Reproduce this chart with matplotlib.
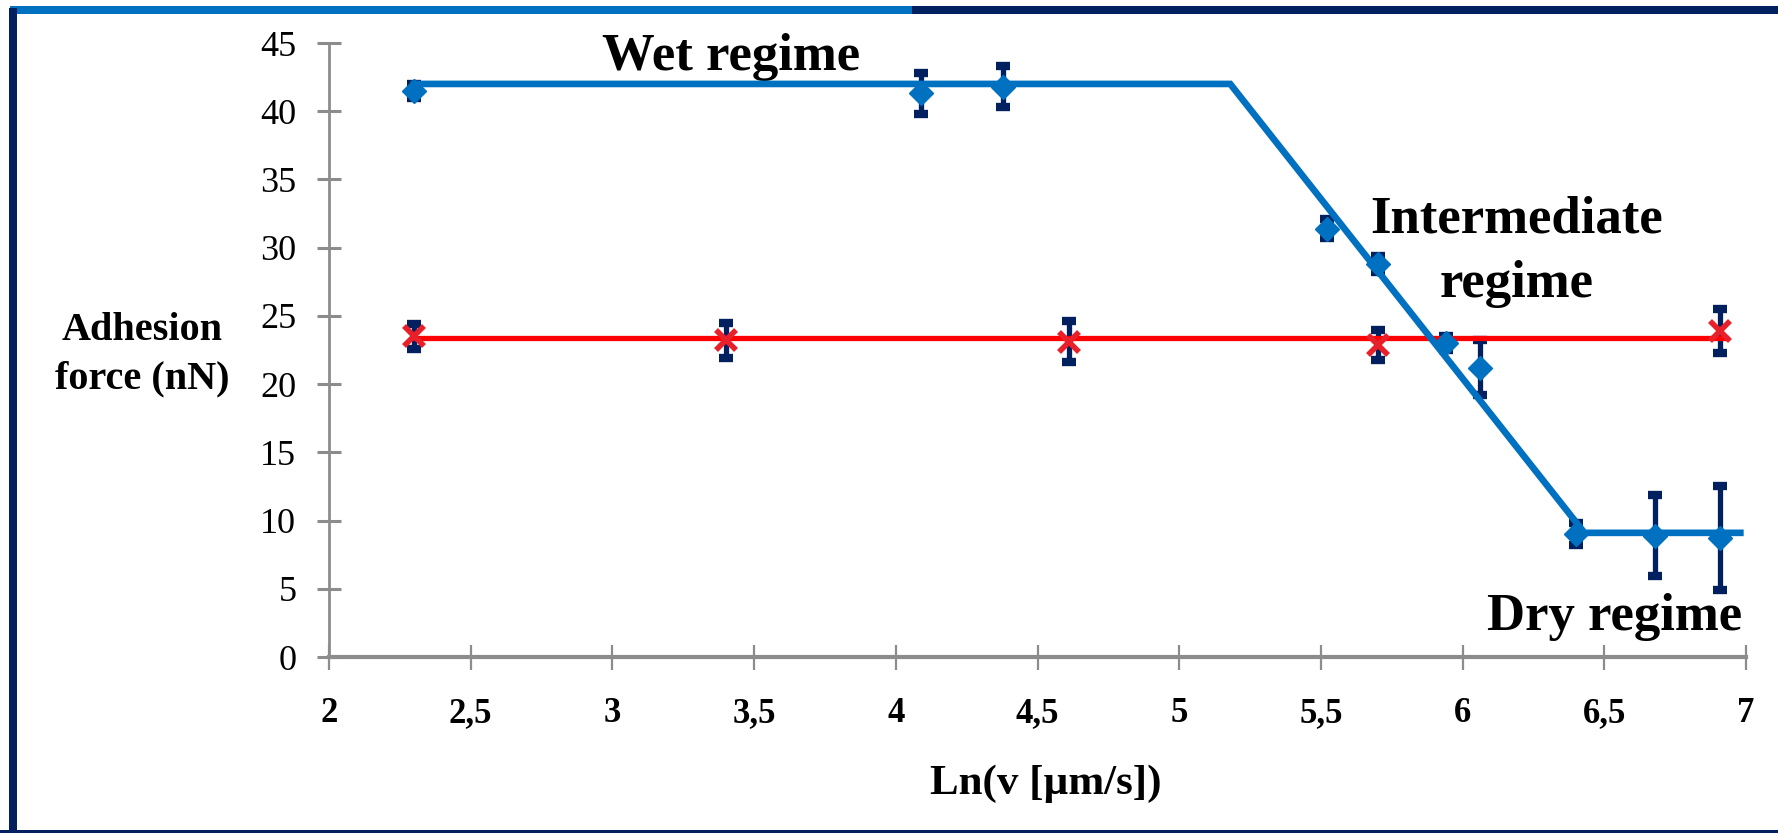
import matplotlib
matplotlib.use('Agg')
import matplotlib.pyplot as plt
from matplotlib.patches import Rectangle
import numpy as np

# data
wet_x = [2.30, 4.09, 4.38, 5.52, 5.70, 5.94, 6.06, 6.40, 6.68, 6.91]
wet_y = [41.5, 41.3, 41.8, 31.4, 28.8, 23.0, 21.2, 9.0, 8.9, 8.7]
wet_err = [0.5, 1.5, 1.5, 0.7, 0.6, 0.5, 2.0, 0.8, 3.0, 3.8]

ctrl_x = [2.30, 3.40, 4.61, 5.70, 6.91]
ctrl_y = [23.5, 23.2, 23.1, 22.9, 23.9]
ctrl_err = [0.9, 1.3, 1.5, 1.1, 1.6]

# fitted regimes
fit_x = [2.30, 5.18, 6.43, 6.98]
fit_y = [42.0, 42.0, 9.1, 9.1]
flat_x = [2.30, 6.93]
flat_y = [23.4, 23.4]

xticks = [2, 2.5, 3, 3.5, 4, 4.5, 5, 5.5, 6, 6.5, 7]
xticklabels = ['2', '2,5', '3', '3,5', '4', '4,5', '5', '5,5', '6', '6,5', '7']
yticks = [0, 5, 10, 15, 20, 25, 30, 35, 40, 45]

blue = '#0070C0'
navy = '#002060'
grey = '#8C8C8C'

plt.rcParams['font.family'] = ['Liberation Serif', 'DejaVu Serif']

W, H = 1778, 833
fig = plt.figure(figsize=(W / 100, H / 100), dpi=100)
ax = fig.add_axes([329 / W, 1 - 657 / H, (1746 - 329) / W, (657 - 43) / H])

# error bars first, then lines and markers
ax.errorbar(wet_x, wet_y, yerr=wet_err, fmt='none', ecolor=navy,
            elinewidth=3.8, capsize=5, capthick=6, zorder=2, clip_on=False)
ax.errorbar(ctrl_x, ctrl_y, yerr=ctrl_err, fmt='none', ecolor=navy,
            elinewidth=3.8, capsize=5, capthick=6, zorder=2, clip_on=False)

ax.plot(flat_x, flat_y, color='#FF0000', lw=3.8, zorder=3, clip_on=False)
ax.plot(fit_x, fit_y, color=blue, lw=4.8, zorder=4, clip_on=False,
        solid_joinstyle='miter')

ax.plot(wet_x, wet_y, ls='none', marker='D', ms=12, color=blue,
        mec=blue, zorder=5, clip_on=False)
ax.plot(ctrl_x, ctrl_y, ls='none', marker='x', ms=14, mew=4,
        color='#E8202A', zorder=5, clip_on=False)

ax.set_xlim(2, 7)
ax.set_ylim(0, 45)
ax.set_xticks(xticks)
ax.set_xticklabels(xticklabels, fontweight='bold', fontsize=25)
ax.set_yticks(yticks)
ax.set_yticklabels([str(v) for v in yticks], fontsize=26)

for s in ['top', 'right']:
    ax.spines[s].set_visible(False)
ax.spines['left'].set_color(grey)
ax.spines['left'].set_linewidth(2)
ax.spines['bottom'].set_color(grey)
ax.spines['bottom'].set_linewidth(3)
ax.tick_params(axis='x', direction='inout', length=18, width=1.6,
               color=grey, pad=20)
ax.tick_params(axis='y', direction='inout', length=17, width=2.2,
               color=grey, pad=15)

# regime labels
ax.text(3.42, 43.0, 'Wet regime', ha='center', va='baseline',
        fontsize=38, fontweight='bold')
ax.text(6.19, 31.1, 'Intermediate', ha='center', va='baseline',
        fontsize=38, fontweight='bold')
ax.text(6.19, 26.4, 'regime', ha='center', va='baseline',
        fontsize=38, fontweight='bold')
ax.text(6.535, 1.98, 'Dry regime', ha='center', va='baseline',
        fontsize=38, fontweight='bold', clip_on=False)

# axis titles
fig.text(142 / W, 1 - 340 / H, 'Adhesion', ha='center', va='baseline',
         fontsize=29, fontweight='bold')
fig.text(142 / W, 1 - 388 / H, 'force (nN)', ha='center', va='baseline',
         fontsize=29, fontweight='bold')
fig.text(1046 / W, 1 - 794 / H, 'Ln(v [\u00b5m/s])', ha='center',
         va='baseline', fontsize=31, fontweight='bold')

# slide frame
fig.add_artist(Rectangle((10 / W, 1 - 14 / H), 902 / W, 8 / H,
                         transform=fig.transFigure, color=blue, lw=0))
fig.add_artist(Rectangle((912 / W, 1 - 14 / H), (W - 912) / W, 8 / H,
                         transform=fig.transFigure, color=navy, lw=0))
fig.add_artist(Rectangle((9 / W, 0), 8 / W, 1 - 8 / H,
                         transform=fig.transFigure, color=navy, lw=0))
fig.add_artist(Rectangle((0, 0), 1, 3 / H,
                         transform=fig.transFigure, color=navy, lw=0))

fig.savefig('out.png', dpi=100)
